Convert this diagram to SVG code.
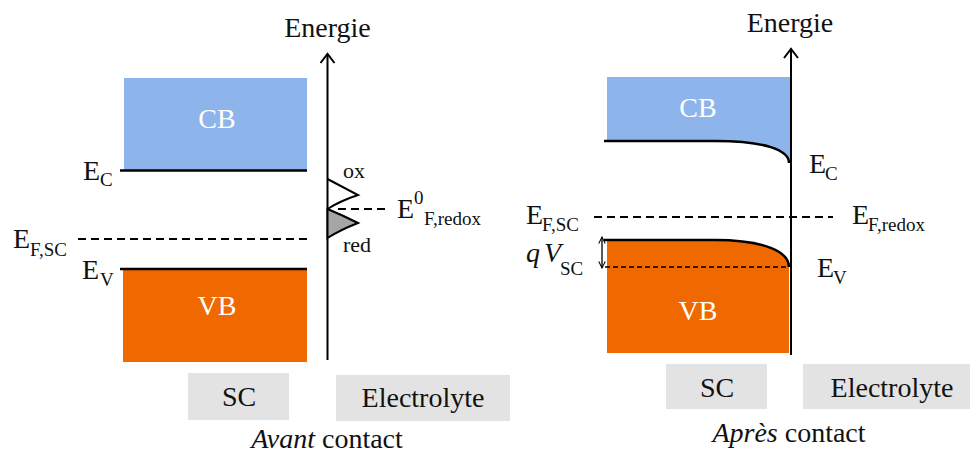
<svg xmlns="http://www.w3.org/2000/svg" width="970" height="453" viewBox="0 0 970 453">
<style>
text{font-family:"Liberation Serif","DejaVu Serif",serif;fill:#111}
.big{font-size:28px}
.sub{font-size:19px}
.lbl{font-size:22px}
.band{font-size:28px;fill:#fff;text-anchor:middle}
.cb{fill:#8db5eb}
.vb{fill:#f06900}
.box{fill:#e3e3e3}
.ln{stroke:#000;stroke-width:2.5;fill:none}
.axis{stroke:#000;stroke-width:2;fill:none}
.dash{stroke:#000;stroke-width:2;stroke-dasharray:8 5;fill:none}
.dash2{stroke:#000;stroke-width:1.6;stroke-dasharray:5 3;fill:none}
.it{font-style:italic}
</style>
<defs>
<marker id="open" viewBox="0 0 10 10" refX="9" refY="5" markerWidth="8" markerHeight="8" markerUnits="userSpaceOnUse" orient="auto-start-reverse">
<path d="M1,1 L9,5 L1,9" fill="none" stroke="#000" stroke-width="1.3"/>
</marker>
</defs>

<!-- LEFT PANEL -->
<g id="left-cb">
<rect class="cb" x="124" y="78" width="183" height="92"/>
<text class="band" x="217" y="128">CB</text>
</g>
<g id="left-vb">
<rect class="vb" x="123" y="269" width="184" height="93"/>
<text class="band" x="217" y="315">VB</text>
</g>
<g id="left-ec">
<line class="ln" x1="120" y1="170.5" x2="307" y2="170.5"/>
<text class="big" x="83" y="180">E</text><text class="sub" x="100" y="186">C</text>
</g>
<g id="left-ev">
<line class="ln" x1="120" y1="269" x2="307" y2="269"/>
<text class="big" x="82" y="279">E</text><text class="sub" x="100" y="286">V</text>
</g>
<g id="left-efsc">
<line class="dash" x1="78" y1="239" x2="308" y2="239"/>
<text class="big" x="13" y="248">E</text><text class="sub" x="30" y="256">F,SC</text>
</g>
<g id="left-axis">
<line class="axis" x1="327.5" y1="360" x2="327.5" y2="54"/>
<path class="axis" d="M320.5,63 L327.5,54 L334.5,63"/>
<text class="big" x="327.5" y="37" text-anchor="middle">Energie</text>
</g>
<g id="left-redox">
<path d="M327.5,209 Q342,215 358,223 Q340,230 327.5,238 Z" fill="#a6a6a6" stroke="#000" stroke-width="2"/>
<path d="M327.5,179 L358,195 Q340,201 327.5,209" fill="none" stroke="#000" stroke-width="2"/>
<line class="dash" x1="338" y1="209" x2="385" y2="209"/>
<text class="lbl" x="343" y="178">ox</text>
<text class="lbl" x="343" y="252">red</text>
<text class="big" x="397" y="218">E</text><text class="sub" x="414" y="204">0</text><text class="sub" x="424" y="225">F,redox</text>
</g>
<g id="left-sc-box">
<rect class="box" x="188" y="373" width="101" height="47"/>
<text class="big" x="239" y="406" text-anchor="middle">SC</text>
</g>
<g id="left-el-box">
<rect class="box" x="336" y="375" width="174" height="46"/>
<text class="big" x="423" y="407" text-anchor="middle">Electrolyte</text>
</g>
<text class="big" x="327" y="448" text-anchor="middle"><tspan class="it">Avant</tspan> contact</text>

<!-- RIGHT PANEL -->
<g id="right-cb">
<path class="cb" d="M607,77 H790 V163 C789,150 765,141 715,141 H607 Z"/>
<path class="ln" d="M604,141 H715 C765,141 789,150 789,163"/>
<text class="band" x="698" y="117">CB</text>
</g>
<g id="right-vb">
<path class="vb" d="M607,240 H715 C765,240 789,252 789,267 V353 H607 Z"/>
<path class="ln" d="M604,240 H715 C765,240 789,252 789,267"/>
<line class="dash2" x1="605" y1="267" x2="789" y2="267"/>
<text class="band" x="698" y="320">VB</text>
</g>
<g id="right-axis">
<line class="axis" x1="791" y1="355" x2="791" y2="49"/>
<path class="axis" d="M784,58 L791,49 L798,58"/>
<text class="big" x="790" y="32" text-anchor="middle">Energie</text>
</g>
<g id="right-ec">
<text class="big" x="809" y="173">E</text><text class="sub" x="825" y="180">C</text>
</g>
<g id="right-ev">
<text class="big" x="817" y="277">E</text><text class="sub" x="833" y="284">V</text>
</g>
<g id="right-ef">
<line class="dash" x1="594" y1="217" x2="833" y2="217"/>
<text class="big" x="526" y="224">E</text><text class="sub" x="542" y="231">F,SC</text>
<text class="big" x="852" y="224">E</text><text class="sub" x="868" y="231">F,redox</text>
</g>
<g id="right-qv">
<line x1="602" y1="237" x2="602" y2="268" stroke="#000" stroke-width="1.3" marker-start="url(#open)" marker-end="url(#open)"/>
<text class="big it" x="526" y="262">q</text><text class="big it" x="544" y="262">V</text><text class="sub" x="560" y="275">SC</text>
</g>
<g id="right-sc-box">
<rect class="box" x="666" y="364" width="101" height="45"/>
<text class="big" x="717" y="397" text-anchor="middle">SC</text>
</g>
<g id="right-el-box">
<rect class="box" x="803" y="364" width="167" height="45"/>
<text class="big" x="892" y="397" text-anchor="middle">Electrolyte</text>
</g>
<text class="big" x="789" y="442" text-anchor="middle"><tspan class="it">Après</tspan> contact</text>
</svg>
